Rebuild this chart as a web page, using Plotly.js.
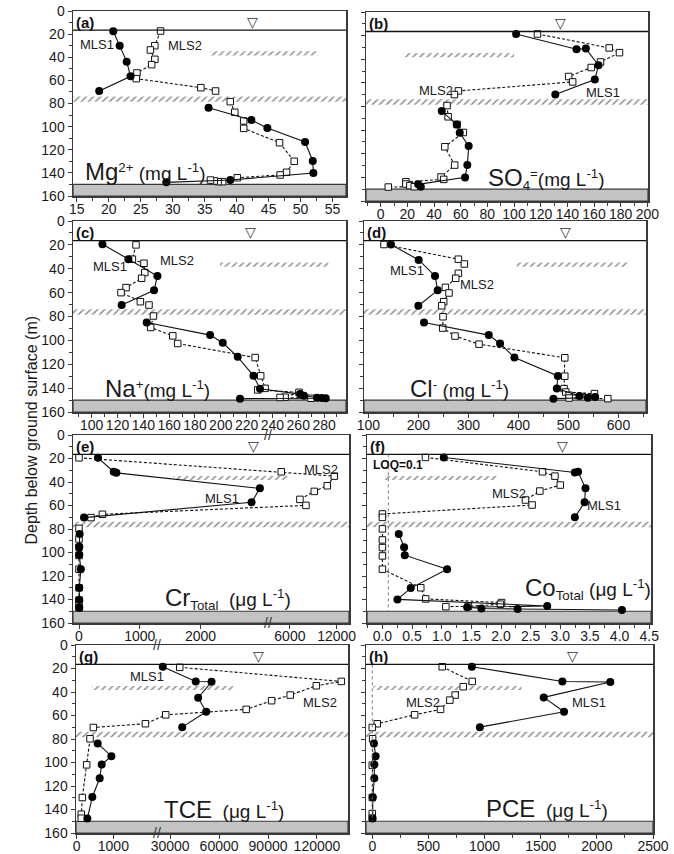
<!DOCTYPE html>
<html><head><meta charset="utf-8">
<script src="https://cdn.plot.ly/plotly-3.0.1.min.js"></script>
<style>body{margin:0;background:#fff;} #chart{width:674px;height:854px;}</style>
</head><body><div id="chart"></div>
<script>
// ---------------- DATA (depth in m, concentration) ----------------
// (a) Mg2+ (mg/L)
const mg1_d=[17.5,30,43.8,56.5,69.2,null,83.6,94.3,101.2,113.3,129.7,140.1,146.2,148.2];
const mg1_v=[20.7,21.7,22.8,23.4,18.5,null,35.6,42.3,44.8,50.7,51.9,52.0,39.0,29.0];
const mg2_d=[17.3,30,33.7,41.8,46.4,53.6,58.5,66.3,69.2,null,78.4,87.6,95.1,101.5,113.9,130,139.5,141.8,144.2,147.6,147.6,147.0,146.2];
const mg2_v=[28.1,27.2,26.5,27.2,26.7,24.4,24.3,34.4,36.7,null,39.0,39.7,41.1,41.1,46.7,49.0,47.8,46.8,40.1,37.8,37.1,36.5,35.9];
// (b) SO4 (mg/L)
const so1_d=[18.6,31.5,31.0,45.1,57.2,69.9,null,83.9,95.2,102.3,113.5,129.6,140.0,145.9,147.9];
const so1_v=[101.6,146.9,153.9,163.4,160.6,131.0,null,45.8,57.0,59.3,66.0,65.0,63.3,28.1,30.1];
const so2_d=[18.6,30.4,34.4,42.3,47.0,54.6,59.2,66.8,69.9,null,79.2,88.7,95.2,102.0,114.1,129.6,139.7,141.7,143.7,145.6,147.0,147.9,148.2];
const so2_v=[117.6,171.4,179.1,164.9,157.9,141.0,144.0,58.3,55.3,null,49.8,50.6,57.3,62.0,48.1,55.5,45.3,47.3,18.9,18.9,21.9,25.2,5.7];
// (c) Na+ (mg/L)
const na1_d=[19.4,32.0,46.0,58.1,70.4,null,85.0,95.6,102.0,113.8,129.7,140.5,145.0,146.3,148.0,148.3,148.5,148.8];
const na1_v=[108.3,128.4,150.9,148.3,123.2,null,142.6,191.7,201.5,213.1,225.3,230.4,261.4,264.5,274.5,278.2,281.3,214.9];
const na2_d=[20.0,32.0,35.4,43.2,48.0,55.8,60.0,67.6,70.4,null,79.6,89.2,96.2,102.6,114.4,129.7,140.2,141.5,143.5,147.6,147.8,148.5];
const na2_v=[134.3,131.5,140.5,141.1,138.7,126.6,122.7,137.7,144.4,null,147.8,145.7,162.8,166.6,226.6,230.9,234.3,228.6,260.6,249.8,245.9,269.9];
// (d) Cl- (mg/L)
const cl1_d=[19.7,32.6,46.0,58.1,71.0,null,85.0,95.6,102.6,114.4,129.8,140.4,146.6,147.4,148.0,148.8];
const cl1_v=[145.3,200.7,233.3,238.7,200.0,null,211.3,340.7,363.3,392.0,478.7,476.7,522.0,553.3,538.7,470.0];
const cl2_d=[19.7,32.0,36.0,43.8,48.0,55.6,60.3,67.6,71.0,null,80.2,89.7,96.4,103.2,114.6,130.0,140.4,143.3,144.6,146.0,148.3,148.8];
const cl2_v=[131.3,280,292,280,274.7,254,261.3,250.7,246.7,null,249.3,248.7,273.3,321.3,492.7,492.7,491.3,494.7,552,501.3,501.3,578.7];
// (e) Cr total (ug/L)
const cr1_d=[19.4,31.3,32.2,45.4,57.3,70.3,null,84.2,95.0,102.0,114.2,130.0,140.5,147.0];
const cr1_v=[313,571,615,2978,2841,82,null,10,5,5,30,5,5,5];
const cr2_d=[19.4,31.3,35.0,43.2,48.0,54.8,59.9,67.5,70.3,null,79.5,88.5,95.5,102.5,114.2,130.0,140.5,144.0,147.0];
const cr2_v=[0,4886,11700,10800,9129,7286,8057,385,198,null,0,0,0,0,0,0,0,0,0];
// (f) Co total (ug/L)
const co1_d=[19.1,31.9,31.3,45.4,57.3,70.1,null,84.2,95.5,102.3,114.2,130.3,139.9,145.5,146.6,147.6,148.1,148.9];
const co1_v=[1.035,3.245,3.30,3.425,3.41,3.245,null,0.276,0.366,0.377,1.091,0.478,0.253,2.78,1.43,1.67,2.28,4.04];
const co2_d=[19.1,31.3,35.0,42.6,47.7,55.3,59.6,67.2,70.1,null,79.9,89.3,95.8,102.9,114.2,130.0,139.5,142.6,144.0,145.8,146.1];
const co2_v=[0.726,2.70,2.91,3.00,2.655,2.413,2.525,0,0,null,0,0,0,0,0,0.647,0.73,2.01,1.99,1.45,1.07];
// (g) TCE (ug/L)
const tce1_d=[18.5,31.0,31.3,44.9,56.8,69.9,null,83.8,94.6,101.7,113.4,129.3,147.7];
const tce1_v=[25500,45700,55400,47200,52100,37400,null,573,945,682,627,427,291];
const tce2_d=[19.0,31.0,34.7,42.6,47.4,54.8,59.4,67.0,70.2,null,79.8,102.0,129.8,144.0,147.4];
const tce2_v=[35900,134900,119600,103600,92200,76600,27300,1873,455,null,364,273,155,127,127];
// (h) PCE (ug/L)
const pce1_d=[18.5,31.0,31.5,44.6,56.8,69.9,null,83.8,94.6,101.7,113.4,129.5,147.7];
const pce1_v=[887,1693,2120,1527,1708,958,null,15,30,18,18,5,3];
const pce2_d=[18.5,31.0,35.5,42.6,46.9,54.8,59.4,67.0,70.2,null,79.8,102.3,129.8,143.5,147.4];
const pce2_v=[623,890,810,738,691,608,377,44,0,null,3,0,0,0,0];

// tick labels of the broken axes
const cr_ticks=[0,1000,2000,6000,12000];
const tce_ticks=[0,1000,30000,60000,90000,120000];

// ---------------- SCALES for broken axes ----------------
const ident=v=>v;
function tCr(v){ if(v==null) return null; return v<=3115 ? v : 3115+(v-3214)*0.1282; }
function tTce(v){ if(v==null) return null; return v<=2182 ? v : 2182+(v-21820)*0.04445; }

const W=674,H=854;
const FONT='Liberation Sans, Arial, sans-serif';
const BIG=24, UNIT=19;

const P=[
 {lab:'(a)', xp:[73,346], yp:[11,196], xr:[14.4,57.1], ax:{dtick:5,tick0:15,minor:{dtick:2.5}}, d1:mg1_d,v1:mg1_v,d2:mg2_d,v2:mg2_v, tf:ident,
  hs:[35.8,52.7], tri:42.5, m1:[18.1,28.8], m2:[31.9,30.0],
  tt:{x:25.8,y:139,text:'<span style="font-size:'+BIG+'px">Mg</span><sup>2+</sup> (mg L<sup>-1</sup>)'}},
 {lab:'(b)', xp:[366,648], yp:[12,201], xr:[-11,200.5], ax:{dtick:20,tick0:0,minor:{dtick:10}}, d1:so1_d,v1:so1_v,d2:so2_d,v2:so2_v, tf:ident,
  hs:[17,100], tri:135, m1:[166.4,68.5], m2:[41.8,66.8],
  tt:{x:124.5,y:141,text:'<span style="font-size:'+BIG+'px">SO</span><sub>4</sub><sup>=</sup>(mg L<sup>-1</sup>)'}},
 {lab:'(c)', xp:[73,346], yp:[221,412], xr:[85.5,297], ax:{dtick:20,tick0:100,minor:{dtick:10}}, d1:na1_d,v1:na1_v,d2:na2_d,v2:na2_v, tf:ident,
  hs:[199.4,283.4], tri:222.7, m1:[114.2,38.2], m2:[165.9,33.2],
  tt:{x:151,y:140.4,text:'<span style="font-size:'+BIG+'px">Na</span><sup>+</sup>(mg L<sup>-1</sup>)'}},
 {lab:'(d)', xp:[364,646], yp:[221,412], xr:[91.4,655], ax:{dtick:100,tick0:100,minor:{dtick:50}}, d1:cl1_d,v1:cl1_v,d2:cl2_d,v2:cl2_v, tf:ident,
  hs:[396.7,620], tri:494.7, m1:[176.7,41.8], m2:[316.7,53.6],
  tt:{x:282,y:140.4,text:'<span style="font-size:'+BIG+'px">Cl</span><sup>-</sup> (mg L<sup>-1</sup>)'}},
 {lab:'(e)', xp:[73,349], yp:[435,623], xr:[-99,4445], ax:{tickvals:cr_ticks.map(tCr),ticktext:cr_ticks.map(String)}, d1:cr1_d,v1:cr1_v,d2:cr2_d,v2:cr2_v, tf:tCr,
  hs:[1549,tCr(5786)], tri:2868, m1:[2346,53.9], m2:[3978,29.3], brk:3115,
  tt:{x:2456,y:138.8,text:'<span style="font-size:'+BIG+'px">Cr</span><sub style="font-size:10px">Total</sub>  (μg L<sup>-1</sup>)'}},
 {lab:'(f)', xp:[367,651], yp:[435,623], xr:[-0.26,4.53], ax:{dtick:0.5,tick0:0,tickformat:'.1f',minor:{dtick:0.25}}, d1:co1_d,v1:co1_v,d2:co2_d,v2:co2_v, tf:ident,
  hs:[0.04,1.95], tri:3.04, m1:[3.73,59.6], m2:[2.13,49.7], vline:0.1,
  tt:{x:3.46,y:130.3,text:'<span style="font-size:'+BIG+'px">Co</span><sub style="font-size:10px">Total</sub> (μg L<sup>-1</sup>)'}},
 {lab:'(g)', xp:[76,348], yp:[645,833], xr:[-18,7391], ax:{tickvals:tce_ticks.map(tTce),ticktext:tce_ticks.map(String)}, d1:tce1_d,v1:tce1_v,d2:tce2_d,v2:tce2_v, tf:tTce,
  hs:[409,tTce(68855)], tri:4964, m1:[1909,26.4], m2:[6636,49.1], brk:2182,
  tt:{x:4018,y:140,text:'<span style="font-size:'+BIG+'px">TCE</span>  (μg L<sup>-1</sup>)'}},
 {lab:'(h)', xp:[366,653], yp:[645,833], xr:[-56,2500], ax:{dtick:500,tick0:0,minor:{dtick:250}}, d1:pce1_d,v1:pce1_v,d2:pce2_d,v2:pce2_v, tf:ident,
  hs:[9,1329], tri:1782, m1:[1931,49.1], m2:[454,49.1], vline:0,
  tt:{x:1557,y:139.2,text:'<span style="font-size:'+BIG+'px">PCE</span>  (μg L<sup>-1</sup>)'}}
];

const traces=[], shapes=[], annotations=[];
const layout={width:W,height:H,margin:{l:0,r:0,t:0,b:0},paper_bgcolor:'#fff',plot_bgcolor:'#fff',
  showlegend:false,barmode:'overlay',font:{family:FONT,color:'#1a1a1a'}};

const axBase={showline:true,mirror:true,linecolor:'#3a3a3a',linewidth:1.5,ticks:'outside',ticklen:4,tickcolor:'#3a3a3a',
  showgrid:false,zeroline:false,tickfont:{family:FONT,size:14,color:'#1a1a1a'}};

P.forEach((p,i)=>{
  const n=i+1, xs=n===1?'x':'x'+n, ys=n===1?'y':'y'+n;
  const xk=n===1?'xaxis':'xaxis'+n, yk=n===1?'yaxis':'yaxis'+n;
  const left=(i%2===0);
  const xa=Object.assign({},axBase,{domain:[p.xp[0]/W,p.xp[1]/W],range:p.xr,anchor:ys,ticklabelstandoff:-4},p.ax);
  if(xa.minor) xa.minor=Object.assign({ticks:'outside',ticklen:3,tickcolor:'#3a3a3a'},xa.minor);
  if(p.ax.tickvals) xa.tickmode='array';
  layout[xk]=xa;
  layout[yk]=Object.assign({},axBase,{domain:[1-p.yp[1]/H,1-p.yp[0]/H],range:[160,0],anchor:xs,dtick:20,tick0:0,
     showticklabels:left,minor:{dtick:10,ticks:'outside',ticklen:3,tickcolor:'#3a3a3a'}});

  // hatched layers (confining beds)
  const hatchMarker={color:'rgba(0,0,0,0)',line:{width:0},pattern:{shape:'/',fgcolor:'#8f8f8f',bgcolor:'rgba(0,0,0,0)',size:5,solidity:0.3,fillmode:'replace'}};
  traces.push({type:'bar',orientation:'h',xaxis:xs,yaxis:ys,y:[76.2],x:[p.xr[1]-p.xr[0]],base:[p.xr[0]],width:[4.6],marker:hatchMarker,hoverinfo:'skip'});
  traces.push({type:'bar',orientation:'h',xaxis:xs,yaxis:ys,y:[36.6],x:[p.hs[1]-p.hs[0]],base:[p.hs[0]],width:[3.6],marker:hatchMarker,hoverinfo:'skip'});

  // MLS2 (open squares, dashed)
  traces.push({type:'scatter',mode:'lines+markers',xaxis:xs,yaxis:ys,x:p.v2.map(p.tf),y:p.d2,connectgaps:false,
    line:{color:'#111',width:1.1,dash:'3px,2px'},marker:{symbol:'square',size:6.5,color:'#fff',line:{color:'#111',width:1}}});
  // MLS1 (filled circles, solid)
  traces.push({type:'scatter',mode:'lines+markers',xaxis:xs,yaxis:ys,x:p.v1.map(p.tf),y:p.d1,connectgaps:false,
    line:{color:'#111',width:1.1},marker:{symbol:'circle',size:8,color:'#000'}});

  // water table line, clay base
  shapes.push({type:'line',xref:xs+' domain',yref:ys,x0:0,x1:1,y0:16.5,y1:16.5,line:{color:'#111',width:1.3}});
  shapes.push({type:'rect',xref:xs+' domain',yref:ys,x0:0,x1:1,y0:150,y1:160,fillcolor:'#c3c3c3',line:{color:'#3a3a3a',width:1.2},layer:'below'});
  if(p.vline!==undefined) shapes.push({type:'line',xref:xs,yref:ys,x0:p.vline,x1:p.vline,y0:16.5,y1:150,line:{color:'#777',width:1,dash:'dot'}});

  const A=(x,y,text,size,extra)=>annotations.push(Object.assign({xref:xs,yref:ys,x:x,y:y,text:text,showarrow:false,
      font:{family:FONT,size:size,color:'#1a1a1a'}},extra||{}));
  annotations.push({xref:xs+' domain',yref:ys+' domain',x:0.005,y:0.995,xanchor:'left',yanchor:'top',showarrow:false,
      text:'<b>'+p.lab+'</b>',font:{family:FONT,size:15,color:'#111'}});
  A(p.tri,9.5,'▽',15,{font:{family:'DejaVu Sans',size:14,color:'#333'}});
  A(p.m1[0],p.m1[1],'MLS1',13);
  A(p.m2[0],p.m2[1],'MLS2',13);
  A(p.tt.x,p.tt.y,p.tt.text,UNIT);
  if(p.brk!==undefined){
    [1,0].forEach(yy=>annotations.push({xref:xs,yref:ys+' domain',x:p.brk,y:yy,text:'//',showarrow:false,
       font:{family:FONT,size:14,color:'#333'},yanchor:'middle'}));
  }
});

// LOQ note in (f)
annotations.push({xref:'x6',yref:'y6',x:-0.2,y:25.7,xanchor:'left',text:'<b>LOQ=0.1</b>',showarrow:false,font:{family:FONT,size:12,color:'#111'}});
// common y title
annotations.push({xref:'paper',yref:'paper',x:20/W,y:1-430/H,textangle:-90,text:'Depth below ground surface (m)',showarrow:false,
  font:{family:FONT,size:16,color:'#1a1a1a'}});

layout.shapes=shapes; layout.annotations=annotations;
Plotly.newPlot('chart',traces,layout,{staticPlot:true,displayModeBar:false});
</script></body></html>
